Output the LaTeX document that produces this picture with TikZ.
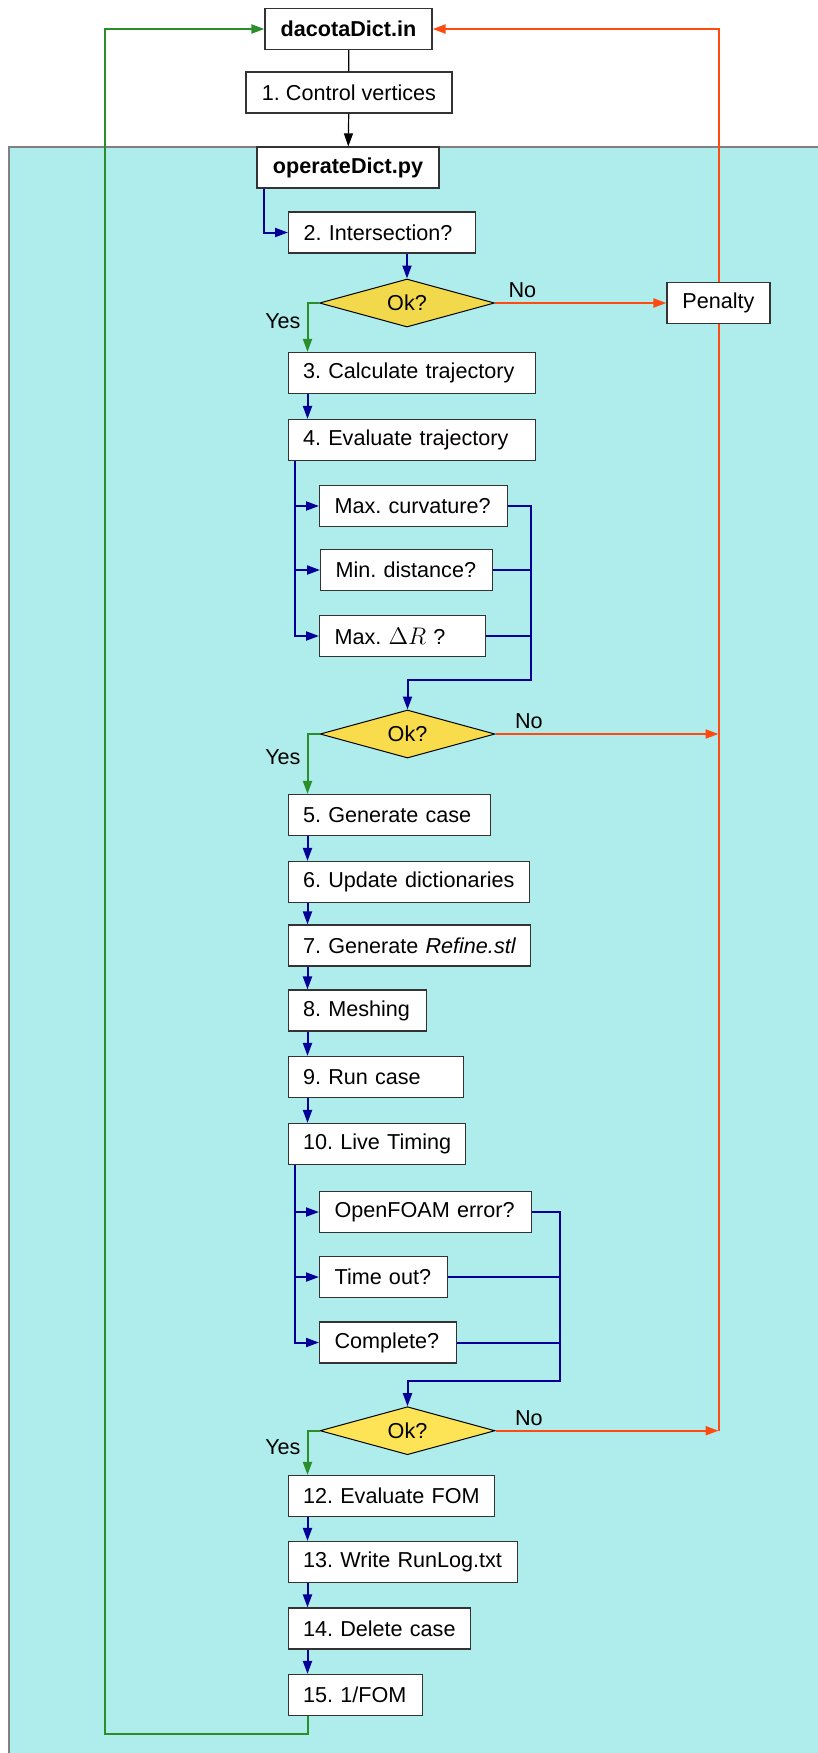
\documentclass[tikz,border=0pt]{standalone}
\usepackage{fontspec}
\setmainfont{Liberation Sans}
\usetikzlibrary{arrows.meta, shapes.geometric, calc, positioning}
\frenchspacing

\definecolor{pool}{HTML}{AFEDED}
\definecolor{okA}{HTML}{F2D94B}
\definecolor{okB}{HTML}{F9DC4C}
\definecolor{okC}{HTML}{FDE356}
\definecolor{flowblue}{HTML}{000099}
\definecolor{flowgreen}{HTML}{2A8F2A}
\definecolor{floworange}{HTML}{FF4A10}
\definecolor{boxline}{HTML}{333333}

\tikzset{
    box/.style={draw=boxline, line width=0.6pt, fill=white, minimum height=20.5pt, inner xsep=7.5pt},
    stepbox/.style={box, anchor=west, align=left,
        execute at begin node={\hbox\bgroup}, execute at end node={\egroup}},
    decision/.style={diamond, aspect=3, draw=black, line width=0.5pt, minimum width=87.5pt, minimum height=24pt, inner sep=0pt},
    arr/.style={-{Triangle[length=6.5pt, width=4.5pt]}},
    plain/.style={draw=black, line width=0.6pt},
    blueplain/.style={draw=flowblue, line width=1pt},
    nextb/.style={blueplain, arr},
    yesline/.style={draw=flowgreen, line width=1pt, arr},
    orangeplain/.style={draw=floworange, line width=1pt},
    noline/.style={orangeplain, arr},
    lbl/.style={inner sep=2pt}
}

\begin{document}
\begin{tikzpicture}[x=0.5pt, y=-0.5pt, every node/.append style={font=\fontsize{10.8pt}{13pt}\selectfont}]
    \useasboundingbox (0,0) rectangle (818,1753);
    \fill[pool] (9,147) rectangle (818,1753);
    \draw[gray, line width=1pt] (9,1753) -- (9,147) -- (818,147);

    \node[box, minimum width=83.5pt] (dict) at (348.5,29) {\textbf{dacotaDict.in}};
    \node[box, minimum width=103pt] (ctrl) at (349,92.5) {1. Control vertices};
    \node[box, minimum width=91pt] (opdict) at (348,167.5) {\textbf{operateDict.py}};
    \node[box, minimum width=51.5pt] (penalty) at (718.5,303) {Penalty};

    \node[stepbox, text width=78.5pt] (s2) at (288,232.5) {2. Intersection?};
    \node[decision, fill=okA] (d1) at (407,303) {Ok?};
    \node[stepbox, text width=108.5pt] (s3) at (287.5,373) {3. Calculate trajectory};
    \node[stepbox, text width=108.5pt] (s4) at (287.5,440) {4. Evaluate trajectory};
    \node[stepbox, text width=79pt] (c1) at (319,506) {Max. curvature?};
    \node[stepbox, text width=71pt] (c2) at (320,570) {Min. distance?};
    \node[stepbox, text width=68pt] (c3) at (319,636) {Max. {\fontsize{12.4pt}{13pt}\selectfont$\Delta R$} ?};
    \node[decision, fill=okB] (d2) at (407.5,734) {Ok?};
    \node[stepbox, text width=86pt] (s5) at (287.5,815) {5. Generate case};
    \node[stepbox, text width=105.5pt] (s6) at (287.5,882) {6. Update dictionaries};
    \node[stepbox, text width=106pt] (s7) at (287.5,945.5) {7. Generate \textit{Refine.stl}};
    \node[stepbox, text width=54pt] (s8) at (287.5,1010.5) {8. Meshing};
    \node[stepbox, text width=72.5pt] (s9) at (287.5,1077) {9. Run case};
    \node[stepbox, text width=73.5pt] (s10) at (287.5,1144) {10. Live Timing};
    \node[stepbox, text width=91pt] (t1) at (319,1212) {OpenFOAM error?};
    \node[stepbox, text width=49pt] (t2) at (319,1277) {Time out?};
    \node[stepbox, text width=53.5pt] (t3) at (319,1342.5) {Complete?};
    \node[decision, fill=okC] (d3) at (407.5,1430.7) {Ok?};
    \node[stepbox, text width=88pt] (s12) at (287.5,1496) {12. Evaluate FOM};
    \node[stepbox, text width=99.5pt] (s13) at (287.5,1562) {13. Write RunLog.txt};
    \node[stepbox, text width=76pt] (s14) at (287.5,1628.5) {14. Delete case};
    \node[stepbox, text width=52pt] (s15) at (287.5,1695) {15. 1/FOM};

    \coordinate (j1) at (531,680);
    \coordinate (j2) at (560,1381);
    \coordinate (back) at (105,1733.7);

    \draw[plain] (dict) -- (ctrl);
    \draw[plain, arr] (ctrl) -- (opdict);
    \draw[nextb] ([xshift=3.75pt]opdict.south west) |- (s2.west);
    \draw[nextb] (s2.south -| d1.north) -- (d1.north);

    \foreach \a/\b in {s3/s4, s5/s6, s6/s7, s7/s8, s8/s9, s9/s10, s12/s13, s13/s14, s14/s15}
        \draw[nextb] ([xshift=10pt]\a.south west) -- ([xshift=10pt]\b.north west);

    \foreach \c in {c1, c2, c3}
        \draw[nextb] ([xshift=3.5pt]s4.south west) |- (\c.west);
    \foreach \c in {t1, t2, t3}
        \draw[nextb] ([xshift=3.5pt]s10.south west) |- (\c.west);

    \draw[nextb] (c1.east) -| (j1) -| (d2.north);
    \foreach \c in {c2, c3}
        \draw[blueplain] (\c.east) -- (\c.east -| j1);
    \draw[nextb] (t1.east) -| (j2) -| (d3.north);
    \foreach \c in {t2, t3}
        \draw[blueplain] (\c.east) -- (\c.east -| j2);

    \draw[yesline] (d1.west) -| node[lbl, pos=0.69, left=1pt] {Yes} ([xshift=10pt]s3.north west);
    \draw[yesline] (d2.west) -| node[lbl, pos=0.69, left=1pt] {Yes} ([xshift=10pt]s5.north west);
    \draw[yesline] (d3.west) -| node[lbl, pos=0.69, left=1pt] {Yes} ([xshift=10pt]s12.north west);
    \draw[yesline] ([xshift=10pt]s15.south west) |- (back) |- (dict.west);

    \draw[noline] (d1.east) -- node[lbl, pos=0.16, above] {No} (penalty.west);
    \draw[noline] (d2.east) -- node[lbl, pos=0.15, above] {No} (d2.east -| penalty.south);
    \draw[noline] (d3.east) -- node[lbl, pos=0.15, above] {No} (d3.east -| penalty.south);
    \draw[noline] (penalty.north) |- (dict.east);
    \draw[orangeplain] (penalty.south) -- (penalty.south |- d3.east);
\end{tikzpicture}
\end{document}
